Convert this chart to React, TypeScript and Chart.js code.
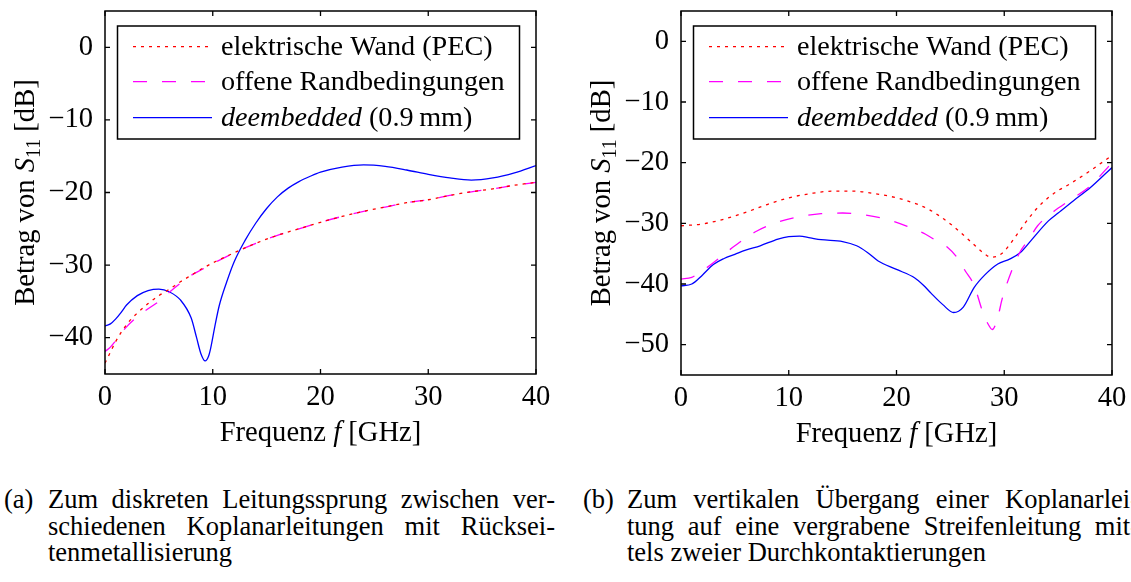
import React, { useEffect, useRef } from "react";
import { Chart, registerables } from "chart.js";

Chart.register(...registerables);

const FONT = '"Liberation Serif", "DejaVu Serif", "Noto Serif", "FreeSerif", "Times New Roman", serif';

// ---------- tick labels ----------
const xTicks = [0, 10, 20, 30, 40];
const yTicksA = [-40, -30, -20, -10, 0];
const yTicksB = [-50, -40, -30, -20, -10, 0];

// ---------- legend labels ----------
const legendPEC = "elektrische Wand (PEC)";
const legendOpen = "offene Randbedingungen";
const legendDeemb = "deembedded";
const legendDeembSuffix = " (0.9\u2009mm)";

// ---------- chart (a) ----------
const fA_pec = [0, 0.5, 1, 2, 3, 4, 5, 6, 7, 8, 9, 10, 12, 14, 16, 18, 20, 22, 24, 26, 28, 30, 32, 34, 36, 38, 40];
const sA_pec = [-43.5, -42.0, -40.5, -38.2, -36.6, -35.3, -34.2, -33.3, -32.3, -31.4, -30.5, -29.7, -28.3, -27.0, -25.9, -25.0, -24.1, -23.3, -22.6, -22.0, -21.4, -21.0, -20.4, -19.9, -19.5, -19.0, -18.6];

const fA_open = [0, 0.5, 1, 2, 3, 4, 5, 6, 7, 8, 9, 10, 12, 14, 16, 18, 20, 22, 24, 26, 28, 30, 32, 34, 36, 38, 40];
const sA_open = [-41.9, -41.3, -40.4, -38.5, -37.1, -36.0, -35.0, -33.7, -32.5, -31.4, -30.6, -29.8, -28.3, -27.0, -25.9, -25.0, -24.1, -23.3, -22.6, -22.0, -21.4, -21.0, -20.4, -19.9, -19.5, -19.0, -18.6];

const fA_deemb = [0, 0.5, 1, 1.5, 2, 3, 4, 5, 6, 7, 8, 8.5, 8.9, 9.3, 9.6, 9.8, 10.2, 10.6, 11.3, 12, 13, 14, 15, 16, 17, 18, 19, 20, 22, 24, 26, 28, 30, 32, 34, 36, 38, 40];
const sA_deemb = [-38.4, -38.1, -37.4, -36.5, -35.5, -34.2, -33.5, -33.3, -33.7, -34.8, -37.3, -40.0, -42.2, -43.2, -42.6, -41.5, -38.4, -35.6, -32.3, -29.5, -26.6, -24.2, -22.2, -20.6, -19.4, -18.5, -17.8, -17.2, -16.5, -16.2, -16.4, -16.9, -17.5, -18.0, -18.3, -18.0, -17.3, -16.3];

// ---------- chart (b) ----------
const fB_pec = [0, 2, 4, 6, 8, 10, 12, 14, 16, 18, 20, 22, 23, 24, 25, 26, 27, 28, 28.8, 29.5, 30, 31, 32, 33, 34, 35, 36, 38, 40];
const sB_pec = [-30.4, -30.1, -29.3, -28.2, -26.9, -25.8, -25.1, -24.7, -24.7, -25.1, -25.8, -26.9, -27.7, -28.8, -30.1, -31.6, -33.2, -34.8, -35.6, -35.3, -34.6, -32.3, -29.8, -27.6, -25.9, -24.6, -23.6, -21.3, -18.8];

const fB_open = [0, 1, 2, 3, 5, 7, 9, 11, 13, 15, 17, 19, 21, 22.7, 24, 24.7, 25.6, 26.4, 27.2, 28, 28.5, 28.9, 29.4, 29.8, 30.8, 31.5, 32.3, 33.1, 34.7, 36, 38, 40];
const sB_open = [-39.2, -38.9, -37.8, -36.5, -33.7, -31.3, -29.8, -28.9, -28.4, -28.3, -28.6, -29.3, -30.5, -31.8, -33.2, -33.9, -35.6, -37.9, -40.2, -44.6, -46.6, -47.5, -45.5, -42.5, -37.3, -34.6, -32.6, -30.4, -27.9, -26.3, -23.8, -20.0];

const fB_deemb = [0, 1, 2, 3, 4, 5, 6, 7.35, 9, 10, 11, 12, 13, 15, 16.3, 17.3, 18.3, 20, 21.7, 22.5, 23.2, 24.3, 25.3, 26.2, 27.2, 28.2, 29.4, 30.5, 31.5, 32.5, 34.1, 35, 36.4, 38, 40];
const sB_deemb = [-40.3, -40.0, -38.5, -36.8, -35.8, -35.1, -34.4, -33.7, -32.6, -32.2, -32.1, -32.4, -32.7, -33.0, -33.7, -34.8, -36.2, -37.6, -39.0, -40.2, -41.5, -43.4, -44.7, -43.8, -40.6, -38.5, -36.7, -35.9, -34.8, -32.8, -29.6, -28.3, -26.3, -24.1, -20.8];

// ---------- captions ----------
const captionA = [
  "Zum diskreten Leitungssprung zwischen ver-",
  "schiedenen Koplanarleitungen mit Rücksei-",
  "tenmetallisierung",
];
const captionB = [
  "Zum vertikalen Übergang einer Koplanarlei-",
  "tung auf eine vergrabene Streifenleitung mit-",
  "tels zweier Durchkontaktierungen",
];

type Run = { text: string; italic?: boolean; sub?: boolean };

// font size that gives a text a target width in whatever serif is installed
function fitSize(text: string, target: number): number {
  const c = document.createElement("canvas").getContext("2d")!;
  c.font = `100px ${FONT}`;
  const w = c.measureText(text).width || 1;
  return Math.round(((100 * target) / w) * 10) / 10;
}

function toPts(xs: number[], ys: number[]) {
  return xs.map((x, i) => ({ x, y: ys[i] }));
}

function drawRuns(ctx: CanvasRenderingContext2D, runs: Run[], x: number, y: number, size: number, center: boolean) {
  const fontOf = (r: Run) => `${r.italic ? "italic " : ""}${r.sub ? Math.round(size * 0.7) : size}px ${FONT}`;
  const widths = runs.map((r) => {
    ctx.font = fontOf(r);
    return ctx.measureText(r.text).width;
  });
  const total = widths.reduce((a, b) => a + b, 0);
  let cx = center ? x - total / 2 : x;
  runs.forEach((r, i) => {
    ctx.font = fontOf(r);
    ctx.fillText(r.text, cx, y + (r.sub ? size * 0.22 : 0));
    cx += widths[i];
  });
}

function fmt(v: number) {
  return v < 0 ? "\u2212" + Math.abs(v) : String(v);
}

type Cfg = {
  padRight: number;
  yWidth: number;
  xHeight: number;
  yMin: number;
  yMax: number;
  yTicks: number[];
  size: number;
  legendSize: number;
  pec: { x: number; y: number }[];
  open: { x: number; y: number }[];
  deemb: { x: number; y: number }[];
};

function makeChart(canvas: HTMLCanvasElement, c: Cfg) {
  const S = c.size;
  const deco = {
    id: "deco",
    afterDraw(chart: any) {
      const ctx = chart.ctx as CanvasRenderingContext2D;
      const a = chart.chartArea;
      const xs = chart.scales.x;
      const ys = chart.scales.y;
      ctx.save();
      ctx.strokeStyle = "#000";
      ctx.lineWidth = 1.3;
      ctx.setLineDash([]);
      // inside ticks on all four sides
      const tl = 5;
      ctx.beginPath();
      xTicks.forEach((v) => {
        const px = xs.getPixelForValue(v);
        ctx.moveTo(px, a.bottom);
        ctx.lineTo(px, a.bottom - tl);
        ctx.moveTo(px, a.top);
        ctx.lineTo(px, a.top + tl);
      });
      c.yTicks.forEach((v) => {
        const py = ys.getPixelForValue(v);
        ctx.moveTo(a.left, py);
        ctx.lineTo(a.left + tl, py);
        ctx.moveTo(a.right, py);
        ctx.lineTo(a.right - tl, py);
      });
      ctx.stroke();
      ctx.lineWidth = 1.5;
      ctx.strokeRect(a.left, a.top, a.right - a.left, a.bottom - a.top);

      // legend box
      const bx0 = a.left + 12.5;
      const bx1 = a.right - 16.5;
      const by0 = a.top + 15;
      const by1 = a.top + 128;
      ctx.fillStyle = "#fff";
      ctx.fillRect(bx0, by0, bx1 - bx0, by1 - by0);
      ctx.lineWidth = 1.5;
      ctx.strokeRect(bx0, by0, bx1 - bx0, by1 - by0);
      const rows: { color: string; dash: number[]; runs: Run[] }[] = [
        { color: "#ff0000", dash: [3, 5], runs: [{ text: legendPEC }] },
        { color: "#ff00ff", dash: [14, 15], runs: [{ text: legendOpen }] },
        { color: "#0000ff", dash: [], runs: [{ text: legendDeemb, italic: true }, { text: legendDeembSuffix }] },
      ];
      const rowY = [35.7, 70.7, 106.7];
      rows.forEach((r, i) => {
        const y = a.top + rowY[i];
        ctx.beginPath();
        ctx.strokeStyle = r.color;
        ctx.lineWidth = 1.3;
        ctx.setLineDash(r.dash);
        ctx.moveTo(a.left + 28, y);
        ctx.lineTo(a.left + 107, y);
        ctx.stroke();
        ctx.setLineDash([]);
        ctx.fillStyle = "#000";
        ctx.textAlign = "left";
        ctx.textBaseline = "alphabetic";
        drawRuns(ctx, r.runs, a.left + 116, y + 8, c.legendSize, false);
      });

      // axis titles
      ctx.fillStyle = "#000";
      ctx.textAlign = "left";
      ctx.textBaseline = "alphabetic";
      drawRuns(
        ctx,
        [{ text: "Frequenz " }, { text: "f", italic: true }, { text: " [GHz]" }],
        (a.left + a.right) / 2,
        a.bottom + 67,
        S,
        true
      );
      ctx.save();
      ctx.translate(a.left - 71.5, (a.top + a.bottom) / 2);
      ctx.rotate(-Math.PI / 2);
      drawRuns(
        ctx,
        [{ text: "Betrag von " }, { text: "S", italic: true }, { text: "11", sub: true }, { text: " [dB]" }],
        0,
        0,
        S,
        true
      );
      ctx.restore();
      ctx.restore();
    },
  };

  return new Chart(canvas, {
    type: "line",
    data: {
      datasets: [
        {
          data: c.pec,
          borderColor: "#ff0000",
          borderWidth: 1.3,
          borderDash: [3, 5],
          pointRadius: 0,
          fill: false,
          cubicInterpolationMode: "monotone",
        },
        {
          data: c.open,
          borderColor: "#ff00ff",
          borderWidth: 1.3,
          borderDash: [14, 15],
          pointRadius: 0,
          fill: false,
          cubicInterpolationMode: "monotone",
        },
        {
          data: c.deemb,
          borderColor: "#0000ff",
          borderWidth: 1.3,
          pointRadius: 0,
          fill: false,
          cubicInterpolationMode: "monotone",
        },
      ],
    },
    options: {
      animation: false,
      responsive: false,
      maintainAspectRatio: false,
      events: [],
      layout: { padding: { top: 11, left: 0, right: c.padRight, bottom: 0 } },
      plugins: { legend: { display: false }, tooltip: { enabled: false }, title: { display: false } },
      scales: {
        x: {
          type: "linear",
          min: 0,
          max: 40,
          grid: { display: false, drawTicks: false },
          border: { display: false },
          ticks: {
            font: { family: FONT, size: S },
            color: "#000",
            padding: 6,
            maxRotation: 0,
            autoSkip: false,
            callback: (v: any) => fmt(Number(v)),
          },
          afterBuildTicks: (s: any) => {
            s.ticks = xTicks.map((v) => ({ value: v }));
          },
          afterFit: (s: any) => {
            s.height = c.xHeight;
            s.paddingLeft = 0;
            s.paddingRight = 0;
          },
        },
        y: {
          type: "linear",
          min: c.yMin,
          max: c.yMax,
          grid: { display: false, drawTicks: false },
          border: { display: false },
          ticks: {
            font: { family: FONT, size: S },
            color: "#000",
            padding: 12,
            autoSkip: false,
            callback: (v: any) => fmt(Number(v)),
          },
          afterBuildTicks: (s: any) => {
            s.ticks = c.yTicks.map((v) => ({ value: v }));
          },
          afterFit: (s: any) => {
            s.width = c.yWidth;
            s.paddingTop = 0;
            s.paddingBottom = 0;
          },
        },
      },
    },
    plugins: [deco],
  } as any);
}

function Caption({ left, label, lines, width, size }: { left: number; label: string; lines: string[]; width: number; size: number }) {
  return (
    <div style={{ position: "absolute", left, top: 486, fontFamily: FONT, fontSize: size, lineHeight: "26px", color: "#000" }}>
      <div style={{ position: "absolute", left: 0, top: 0, whiteSpace: "nowrap" }}>{label}</div>
      {lines.map((l, i) => (
        <div
          key={i}
          style={{
            position: "absolute",
            left: 44,
            top: i * 26.5,
            width,
            textAlign: i < lines.length - 1 ? "justify" : "left",
            textAlignLast: i < lines.length - 1 ? "justify" : "left",
            whiteSpace: "normal",
          } as any}
        >
          {l}
        </div>
      ))}
    </div>
  );
}

export default function App() {
  const refA = useRef<HTMLCanvasElement | null>(null);
  const refB = useRef<HTMLCanvasElement | null>(null);

  const chartSize = Math.min(30, Math.max(18, fitSize("Frequenz f [GHz]", 203)));
  const legendSize = Math.min(
    30,
    Math.max(16, Math.min(fitSize(legendPEC, 280), fitSize(legendOpen, 284)))
  );
  const capSize = Math.min(28, Math.max(16, fitSize("Zum diskreten Leitungssprung zwischen ver-", 480)));

  useEffect(() => {
    document.body.style.margin = "0";
    const ca = makeChart(refA.current!, {
      padRight: 30,
      yWidth: 105,
      xHeight: 86,
      yMin: -45,
      yMax: 5,
      yTicks: yTicksA,
      size: chartSize,
      legendSize,
      pec: toPts(fA_pec, sA_pec),
      open: toPts(fA_open, sA_open),
      deemb: toPts(fA_deemb, sA_deemb),
    });
    const cb = makeChart(refB.current!, {
      padRight: 19,
      yWidth: 115,
      xHeight: 85,
      yMin: -55,
      yMax: 5,
      yTicks: yTicksB,
      size: chartSize,
      legendSize,
      pec: toPts(fB_pec, sB_pec),
      open: toPts(fB_open, sB_open),
      deemb: toPts(fB_deemb, sB_deemb),
    });
    return () => {
      ca.destroy();
      cb.destroy();
    };
  }, []);

  return (
    <div style={{ position: "absolute", left: 0, top: 0, width: 1131, height: 582, overflow: "hidden", background: "#fff" }}>
      <canvas ref={refA} width={566} height={460} style={{ position: "absolute", left: 0, top: 0, width: 566, height: 460 }} />
      <canvas ref={refB} width={565} height={460} style={{ position: "absolute", left: 566, top: 0, width: 565, height: 460 }} />
      <Caption left={4} label="(a)" lines={captionA} width={507} size={capSize} />
      <Caption left={583} label="(b)" lines={captionB} width={512} size={capSize} />
    </div>
  );
}
